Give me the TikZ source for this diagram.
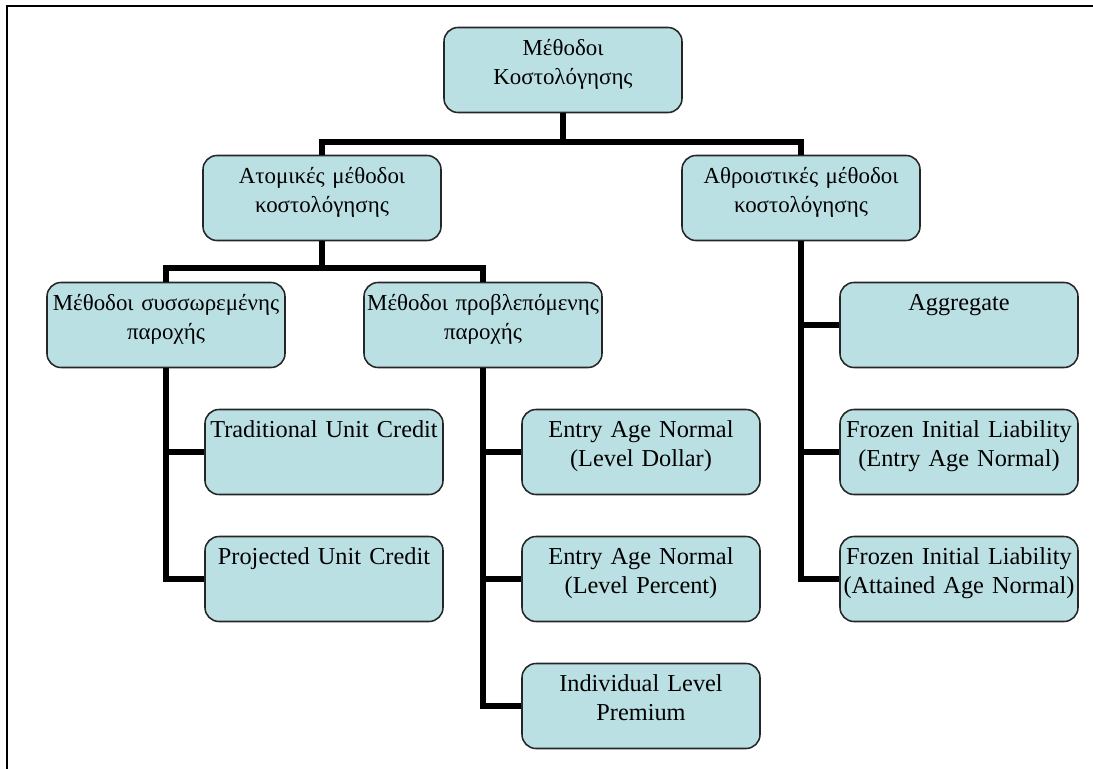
\documentclass[tikz,border=0pt]{standalone}
\usepackage{fontspec}
\setmainfont{Liberation Serif}
\usepackage{tikz}
\usepackage{xcolor}
\definecolor{boxblue}{RGB}{187,224,228}

\begin{document}
\begin{tikzpicture}[
        methbox/.style={draw=black!85, line width=1.1pt, fill=boxblue, rounded corners=0.35cm,
            minimum width=5.95cm, minimum height=2.125cm, text width=6.5cm, align=center,
            inner xsep=-0.275cm, inner ysep=0pt, text height=0.7cm, text depth=1.425cm,
            font=\fontsize{17.3}{20.6}\selectfont},
        grbox/.style={methbox, font=\fontsize{16.3}{20.6}\selectfont},
        link/.style={line width=3.6pt, line join=miter}
    ]
                \useasboundingbox (0,0) rectangle (27.325,-19.225);
                % frame
                \draw[line width=1.7pt] (27.4,-0.15) -- (0.175,-0.15) -- (0.175,-19.3);
                % levels
                \node[grbox] (root) at (14.075,-1.75) {Μέθοδοι\\Κοστολόγησης};
                \node[grbox] (atom) at (8.05,-4.95) {Ατομικές μέθοδοι\\κοστολόγησης};
                \node[grbox] (sum) at (20.025,-4.95) {Αθροιστικές μέθοδοι\\κοστολόγησης};
                \node[grbox] (accr) at (4.15,-8.125) {Μέθοδοι συσσωρεμένης\\παροχής};
                \node[grbox] (proj) at (12.075,-8.125) {Μέθοδοι προβλεπόμενης\\παροχής};
                \node[methbox] (agg) at (23.975,-8.125) {Aggregate};
                \node[methbox] (tuc) at (8.1,-11.3) {Traditional Unit Credit};
                \node[methbox] (puc) at (8.1,-14.475) {Projected Unit Credit};
                \node[methbox] (ead) at (16.025,-11.3) {Entry Age Normal\\(Level Dollar)};
                \node[methbox] (eap) at (16.025,-14.475) {Entry Age Normal\\(Level Percent)};
                \node[methbox] (ilp) at (16.025,-17.65) {Individual Level\\Premium};
                \node[methbox] (fie) at (23.975,-11.3) {Frozen Initial Liability\\(Entry Age Normal)};
                \node[methbox] (fia) at (23.975,-14.475) {Frozen Initial Liability\\(Attained Age Normal)};
                % connectors
                \coordinate (j1) at (14.075,-3.55);
                \coordinate (j2) at (8.05,-6.7);
                \draw[link] (root.south) -- (j1);
                \draw[link] (atom.north) |- (j1) -| (sum.north);
                \draw[link] (atom.south) -- (j2);
                \draw[link] (accr.north) |- (j2) -| (proj.north);
                \draw[link] (accr.south) |- (tuc.west);
                \draw[link] (accr.south) |- (puc.west);
                \draw[link] (proj.south) |- (ead.west);
                \draw[link] (proj.south) |- (eap.west);
                \draw[link] (proj.south) |- (ilp.west);
                \draw[link] (sum.south) |- (agg.west);
                \draw[link] (sum.south) |- (fie.west);
                \draw[link] (sum.south) |- (fia.west);
\end{tikzpicture}
\end{document}
